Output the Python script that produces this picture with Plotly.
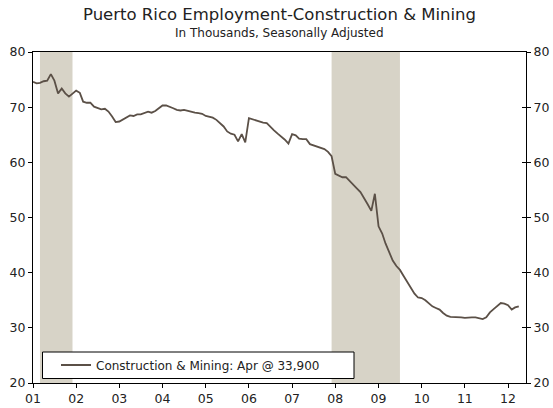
import pandas as pd
import plotly.graph_objects as go

# monthly, Jan 2001 - Apr 2012, thousands
months = pd.date_range("2001-01-01", "2012-04-01", freq="MS")
employment = [
    74.6, 74.3, 74.4, 74.7, 74.8, 76.0, 74.8, 72.5, 73.4, 72.5, 71.9, 72.4,
    73.0, 72.6, 71.0, 70.8, 70.8, 70.1, 69.8, 69.6, 69.7, 69.2, 68.3, 67.3,
    67.4, 67.8, 68.1, 68.5, 68.4, 68.7, 68.7, 69.0, 69.2, 69.0, 69.3, 69.8,
    70.3, 70.3, 70.1, 69.8, 69.5, 69.4, 69.5, 69.3, 69.1, 69.0, 68.9, 68.8,
    68.4, 68.3, 68.1, 67.7, 67.1, 66.5, 65.6, 65.2, 65.0, 63.8, 65.1, 63.6,
    68.0, 67.8, 67.6, 67.3, 67.2, 67.1, 66.4, 65.8, 65.2, 64.7, 64.1, 63.4,
    65.1, 64.9, 64.3, 64.2, 64.2, 63.3, 63.1, 62.9, 62.7, 62.4, 61.9, 61.1,
    57.9, 57.6, 57.3, 57.3, 56.7, 56.0, 55.3, 54.6, 53.6, 52.4, 51.2, 54.3,
    48.4, 47.1, 45.3, 43.6, 42.2, 41.2, 40.5, 39.4, 38.3, 37.2, 36.2, 35.5,
    35.4, 35.0, 34.5, 33.9, 33.6, 33.3, 32.7, 32.2, 32.0, 32.0, 32.0, 31.9,
    31.8, 31.9, 31.9, 31.9, 31.7, 31.6, 31.9, 32.8, 33.4, 33.9, 34.5, 34.4,
    34.1, 33.3, 33.7, 33.9,
]
recessions = [("2001-03-01", "2001-12-01"), ("2007-12-01", "2009-07-01")]
year_ticks = pd.date_range("2001-01-01", "2012-01-01", freq="YS")
year_labels = [d.strftime("%y") for d in year_ticks]
y_ticks = [20, 30, 40, 50, 60, 70, 80]

FONT = "DejaVu Sans"
LINE = "#5b5047"
BAND = "#d7d3c7"
x_range = ["2001-01-01", "2012-06-01"]
y_range = [20, 80]

fig = go.Figure()
fig.add_trace(go.Scatter(x=months, y=employment, mode="lines",
                         line=dict(color=LINE, width=1.8),
                         name="Construction & Mining: Apr @ 33,900"))
# helper traces so the extra tick axes get drawn
fig.add_trace(go.Scatter(x=[], y=[], yaxis="y2", showlegend=False, hoverinfo="skip"))
fig.add_trace(go.Scatter(x=[], y=[], xaxis="x2", yaxis="y3", showlegend=False, hoverinfo="skip"))

shapes = []
for start, end in recessions:
    shapes.append(dict(type="rect", xref="x", yref="paper", x0=start, x1=end, y0=0, y1=1,
                       fillcolor=BAND, line_width=0, layer="below"))
# legend box
shapes.append(dict(type="rect", xref="paper", yref="paper",
                   x0=(42.5 - 33) / 493, x1=(354 - 33) / 493,
                   y0=(383 - 378.5) / 331, y1=(383 - 352) / 331,
                   fillcolor="white", line=dict(color="black", width=1), layer="below"))

tickfont = dict(family=FONT, size=12.5, color="#222")
fig.update_layout(
    width=553, height=408,
    margin=dict(l=33, r=27, t=52, b=25),
    plot_bgcolor="white", paper_bgcolor="white",
    font=dict(family=FONT, color="#222"),
    shapes=shapes,
    showlegend=True,
    legend=dict(x=(56 - 33) / 493, y=(383 - 365) / 331, xanchor="left", yanchor="middle",
                bgcolor="rgba(0,0,0,0)", borderwidth=0,
                font=dict(family=FONT, size=12, color="#222")),
    xaxis=dict(range=x_range, tickvals=year_ticks, ticktext=year_labels, automargin=False,
               ticks="outside", ticklen=4, tickcolor="black", showline=True, linecolor="black",
               mirror=True, showgrid=False, zeroline=False, tickfont=tickfont),
    xaxis2=dict(range=x_range, overlaying="x", anchor="y", side="bottom", automargin=False,
                tickvals=year_ticks, ticktext=[""] * len(year_ticks),
                ticks="inside", ticklen=4, tickcolor="black", showgrid=False, zeroline=False,
                showline=False),
    yaxis=dict(range=y_range, tickvals=y_ticks, ticks="outside", ticklen=4, tickcolor="black",
               automargin=False, showline=True, linecolor="black", showgrid=False,
               zeroline=False, tickfont=tickfont),
    yaxis2=dict(range=y_range, overlaying="y", side="right", tickvals=y_ticks, ticks="outside",
                automargin=False, ticklen=4, tickcolor="black", showline=True,
                linecolor="black", showgrid=False, zeroline=False, tickfont=tickfont),
    yaxis3=dict(range=y_range, overlaying="y", side="right", anchor="x2", tickvals=y_ticks,
                ticktext=[""] * len(y_ticks), ticks="inside", ticklen=4, tickcolor="black",
                automargin=False, showline=False, showgrid=False, zeroline=False),
    annotations=[
        dict(text="Puerto Rico Employment-Construction & Mining", xref="paper", yref="paper",
             x=0.5, y=1 + (52 - 15) / 331, xanchor="center", yanchor="middle", showarrow=False,
             font=dict(family=FONT, size=16.5, color="#222")),
        dict(text="In Thousands, Seasonally Adjusted", xref="paper", yref="paper",
             x=0.5, y=1 + (52 - 33) / 331, xanchor="center", yanchor="middle", showarrow=False,
             font=dict(family=FONT, size=12, color="#222")),
    ],
)

# the page body has a default margin; drop it so the figure sits at 0,0
fig.write_html("out.html", config={"displayModeBar": False},
               post_script="document.body.style.margin='0';")
